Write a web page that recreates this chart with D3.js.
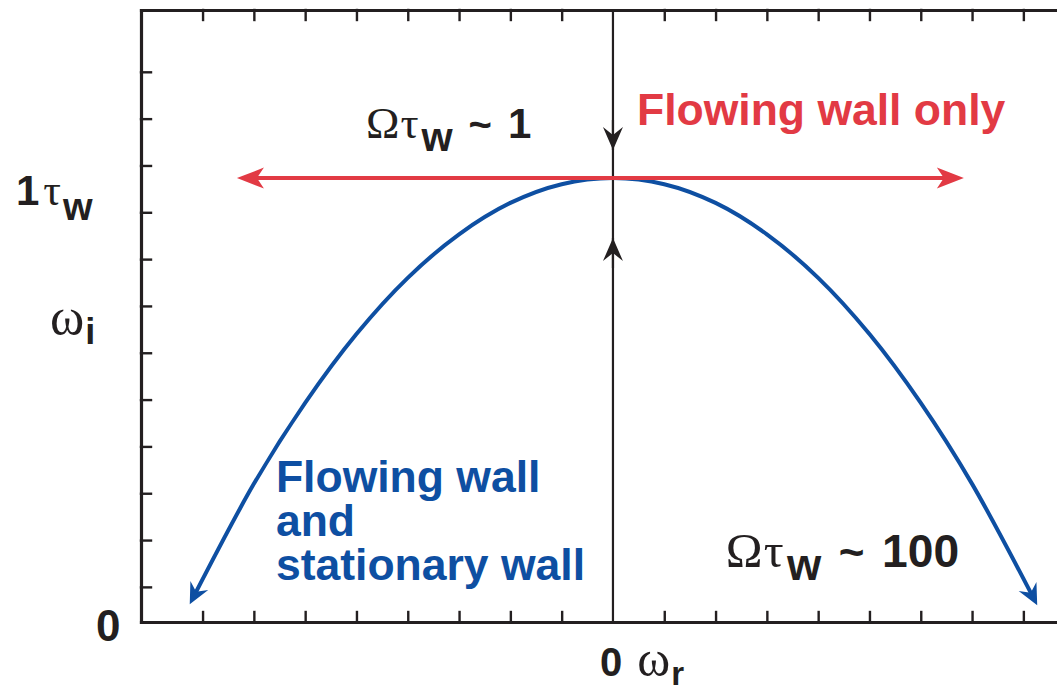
<!DOCTYPE html>
<html>
<head>
<meta charset="utf-8">
<script src="https://cdn.jsdelivr.net/npm/d3@7"></script>
<style>
  html, body { margin: 0; padding: 0; background: #fff; }
  svg { display: block; }
  .sans { font-family: "Liberation Sans", Arial, Helvetica, sans-serif; font-weight: bold; }
  .serif { font-family: "Liberation Serif", "Times New Roman", serif; font-weight: normal; }
</style>
</head>
<body>
<svg id="chart" width="1057" height="693"></svg>
<script>
// Growth-rate curve: omega_i versus omega_r (arbitrary units)
const curveOmegaR = [-8.25, -7, -6, -5, -4, -3, -2, -1, 0, 1, 2, 3, 4, 5, 6, 7, 8.27];
const curveOmegaI = [0.38, 2.95, 4.68, 6.15, 7.35, 8.28, 8.95, 9.35, 9.48, 9.35, 8.95, 8.28, 7.35, 6.15, 4.68, 2.95, 0.36];

// Flowing-wall-only limit: horizontal line at the peak growth rate
const flatOmegaR = [-7.33, 6.84];
const flatOmegaI = [9.48, 9.48];

// Arrow tips on the omega_r = 0 line
const downArrowTip = 10.08;
const upArrowTip = 8.2;

// Axis ticks (unlabelled)
const xTicks = [-8, -7, -6, -5, -4, -3, -2, -1, 1, 2, 3, 4, 5, 6, 7, 8];
const yTicks = [0.75, 1.75, 2.75, 3.75, 4.75, 5.75, 6.75, 7.75, 8.75, 9.75, 10.75, 11.75];

// Plot extent
const xDomain = [-9.2, 9.5];
const yDomain = [0, 13.07];

const RED = "#e23a44";
const BLUE = "#0e4fa2";
const INK = "#231f20";

const svg = d3.select("#chart");
svg.append("rect").attr("width", 1057).attr("height", 693).attr("fill", "#fff");

const x = d3.scaleLinear().domain(xDomain).range([141, 141 + 51.3 * (xDomain[1] - xDomain[0])]);
const y = d3.scaleLinear().domain(yDomain).range([622, 10]);

// Arrowhead markers
const defs = svg.append("defs");
function arrowMarker(id, color, len, half, notch) {
  defs.append("marker")
    .attr("id", id)
    .attr("viewBox", `${-len - 2} ${-half - 2} ${len + 4} ${2 * half + 4}`)
    .attr("refX", 0).attr("refY", 0)
    .attr("markerWidth", len + 4).attr("markerHeight", 2 * half + 4)
    .attr("markerUnits", "userSpaceOnUse")
    .attr("orient", "auto-start-reverse")
    .append("path")
    .attr("d", `M0,0 L${-len},${-half} L${-len + notch},0 L${-len},${half} Z`)
    .attr("fill", color);
}
arrowMarker("arrowBlue", BLUE, 21, 10, 7);
arrowMarker("arrowRed", RED, 27, 10.5, 7);
arrowMarker("arrowBlack", INK, 23, 10, 8);

// Frame: bottom, top and left axes with inward ticks
const axisG = svg.append("g").attr("stroke-linecap", "square");
axisG.append("g")
  .attr("transform", `translate(0,${y(yDomain[0])})`)
  .call(d3.axisBottom(x).tickValues(xTicks).tickSize(-10).tickSizeOuter(0).tickFormat(""));
axisG.append("g")
  .attr("transform", `translate(0,${y(yDomain[1])})`)
  .call(d3.axisTop(x).tickValues(xTicks).tickSize(-10).tickSizeOuter(0).tickFormat(""));
axisG.append("g")
  .attr("transform", `translate(${x(xDomain[0])},0)`)
  .call(d3.axisLeft(y).tickValues(yTicks).tickSize(-10).tickSizeOuter(0).tickFormat(""));
axisG.selectAll(".domain").attr("stroke", INK).attr("stroke-width", 3.2);
axisG.selectAll(".tick line").attr("stroke", INK).attr("stroke-width", 2.4);

// Vertical line at omega_r = 0
svg.append("line")
  .attr("x1", x(0)).attr("x2", x(0))
  .attr("y1", y(yDomain[1])).attr("y2", y(yDomain[0]))
  .attr("stroke", INK).attr("stroke-width", 2.2);

// Trim a path's stroke at both ends so the arrowheads keep sharp tips
function trimEnds(path, trim) {
  const L = path.node().getTotalLength();
  path.attr("stroke-dasharray", `0 ${trim} ${L - 2 * trim} ${L}`);
}

// Blue curve: flowing wall and stationary wall
const curvePts = curveOmegaR.map((v, i) => [v, curveOmegaI[i]]);
const curveLine = d3.line().x(d => x(d[0])).y(d => y(d[1])).curve(d3.curveCatmullRom.alpha(0.5));
const blue = svg.append("path")
  .attr("d", curveLine(curvePts))
  .attr("fill", "none")
  .attr("stroke", BLUE)
  .attr("stroke-width", 4)
  .attr("marker-start", "url(#arrowBlue)")
  .attr("marker-end", "url(#arrowBlue)");
trimEnds(blue, 8);

// Red line: flowing wall only
const flatPts = flatOmegaR.map((v, i) => [v, flatOmegaI[i]]);
const red = svg.append("path")
  .attr("d", d3.line().x(d => x(d[0])).y(d => y(d[1]))(flatPts))
  .attr("fill", "none")
  .attr("stroke", RED)
  .attr("stroke-width", 4)
  .attr("marker-start", "url(#arrowRed)")
  .attr("marker-end", "url(#arrowRed)");
trimEnds(red, 10);

// Arrowheads pointing at the peak along omega_r = 0
svg.append("path")
  .attr("d", d3.line()([[x(0), y(downArrowTip) - 30], [x(0), y(downArrowTip)]]))
  .attr("stroke", INK).attr("stroke-width", 2.2)
  .attr("marker-end", "url(#arrowBlack)");
svg.append("path")
  .attr("d", d3.line()([[x(0), y(upArrowTip) + 30], [x(0), y(upArrowTip)]]))
  .attr("stroke", INK).attr("stroke-width", 2.2)
  .attr("marker-end", "url(#arrowBlack)");

// Ωτ_w ~ N annotation
function omegaTauLabel(px, py, tail, k) {
  const t = svg.append("text").attr("x", px).attr("y", py).attr("fill", INK);
  t.append("tspan").attr("class", "serif").attr("font-size", 45 * k).text("Ω");
  t.append("tspan").attr("class", "serif").attr("font-size", 45 * k).attr("dx", 1 * k).text("τ");
  t.append("tspan").attr("class", "sans").attr("font-size", 40 * k).attr("dx", 3 * k).attr("dy", 13).text("w");
  t.append("tspan").attr("class", "sans").attr("font-size", 40 * k).attr("font-weight", "normal")
    .attr("dx", 16 * k).attr("dy", -13).text("~");
  t.append("tspan").attr("class", "sans").attr("font-size", 42 * k).attr("dx", 16 * k).text(tail);
  return t;
}

omegaTauLabel(x(-4.815), y(10.34), "1", 1);
omegaTauLabel(x(2.2), y(1.175), "100", 1.1);

svg.append("text")
  .attr("class", "sans").attr("font-size", 44.5).attr("fill", RED)
  .attr("x", x(0.468)).attr("y", y(10.615))
  .text("Flowing wall only");

const blueText = svg.append("text")
  .attr("class", "sans").attr("font-size", 44.5).attr("fill", BLUE)
  .attr("x", x(-6.57)).attr("y", y(2.78));
["Flowing wall", "and", "stationary wall"].forEach((s, i) => {
  blueText.append("tspan").attr("x", x(-6.57)).attr("dy", i === 0 ? 0 : 44.2).text(s);
});

// Y-axis labels
const yl = svg.append("text").attr("x", 16).attr("y", y(9.48) + 27).attr("fill", INK);
yl.append("tspan").attr("class", "sans").attr("font-size", 42).text("1");
yl.append("tspan").attr("class", "serif").attr("font-size", 44).attr("dx", 4).text("τ");
yl.append("tspan").attr("class", "sans").attr("font-size", 38).attr("dx", 2).attr("dy", 15).text("w");

const wi = svg.append("text").attr("x", 50).attr("y", 334).attr("fill", INK);
wi.append("tspan").attr("class", "serif").attr("font-size", 52).text("ω");
wi.append("tspan").attr("class", "sans").attr("font-size", 36).attr("dx", 1).attr("dy", 10).text("i");

svg.append("text")
  .attr("class", "sans").attr("font-size", 44).attr("fill", INK)
  .attr("x", 96).attr("y", y(0) + 19)
  .text("0");

// X-axis label
const xl = svg.append("text").attr("x", x(0) - 13).attr("y", 676).attr("fill", INK);
xl.append("tspan").attr("class", "sans").attr("font-size", 40).text("0");
xl.append("tspan").attr("class", "serif").attr("font-size", 50).attr("dx", 15).text("ω");
xl.append("tspan").attr("class", "sans").attr("font-size", 33).attr("dx", 1).attr("dy", 9).text("r");
</script>
</body>
</html>
